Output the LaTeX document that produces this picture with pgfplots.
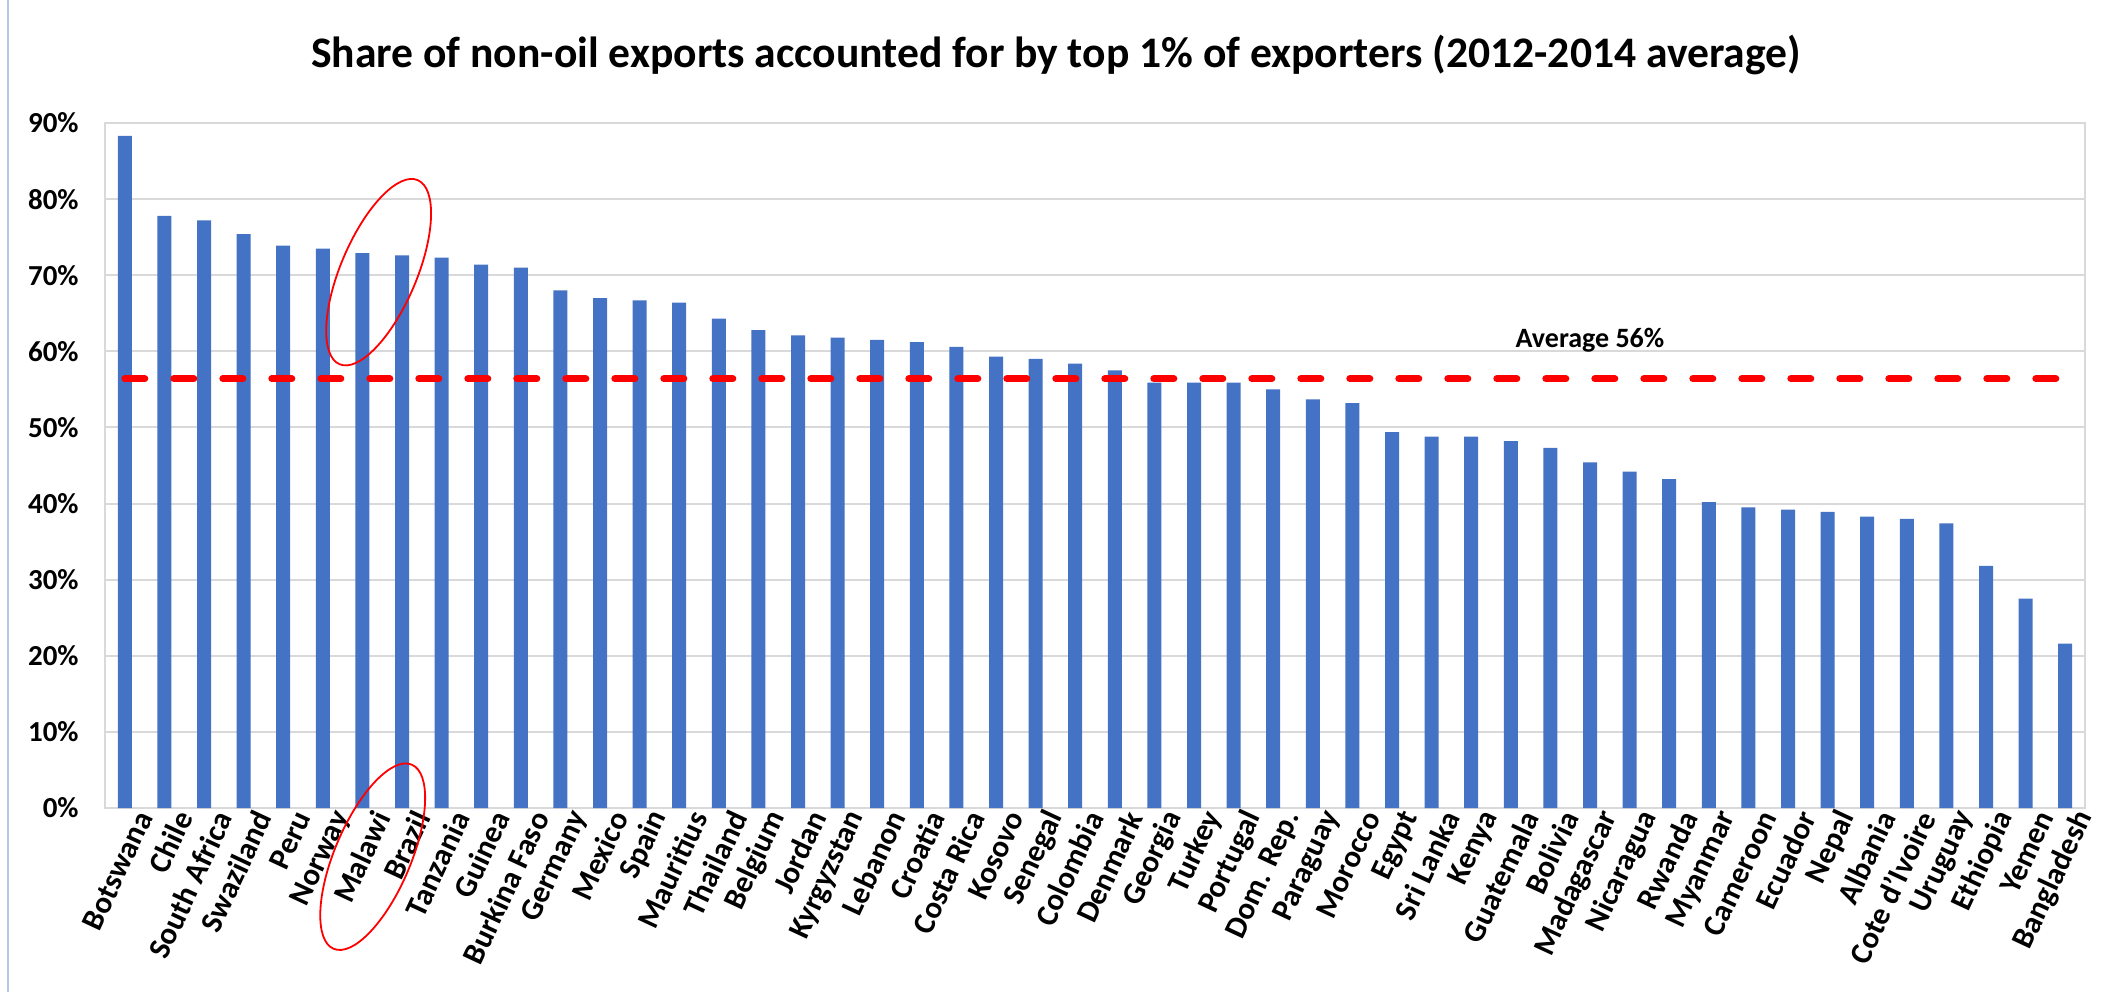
\documentclass[border=0pt]{standalone}
\usepackage{fontspec}
\setmainfont{Carlito}
\usepackage{pgfplots}
\usepackage{pgfplotstable}
\pgfplotsset{compat=1.18}
\usetikzlibrary{shapes.geometric}
\definecolor{barblue}{HTML}{4472C4}
\definecolor{gridgray}{HTML}{D9D9D9}
\definecolor{frameblue}{HTML}{B4C7E7}

\pgfplotstableread{
x y
0 88.3
1 77.8
2 77.2
3 75.4
4 73.9
5 73.5
6 72.9
7 72.6
8 72.3
9 71.4
10 71.0
11 68.0
12 67.0
13 66.7
14 66.4
15 64.3
16 62.8
17 62.1
18 61.8
19 61.5
20 61.2
21 60.6
22 59.3
23 59.0
24 58.4
25 57.5
26 55.9
27 55.9
28 55.9
29 55.0
30 53.7
31 53.2
32 49.4
33 48.8
34 48.8
35 48.2
36 47.3
37 45.4
38 44.2
39 43.2
40 40.2
41 39.5
42 39.2
43 38.9
44 38.3
45 38.0
46 37.4
47 31.8
48 27.5
49 21.6
}\datatable

\begin{document}
\begin{tikzpicture}
\useasboundingbox (0,0) rectangle (1056pt,496pt);
\draw[frameblue, line width=0.75pt] (4pt,0) -- (4pt,496pt);
\node[anchor=base, inner sep=0pt, font=\fontsize{21.8}{26}\selectfont\bfseries] at (528pt,462pt) {Share of non-oil exports accounted for by top 1\% of exporters (2012-2014 average)};
\begin{axis}[
  at={(52.5pt,92pt)}, anchor=south west,
  scale only axis, width=990pt, height=342.5pt,
  xmin=-0.5, xmax=49.5, ymin=0, ymax=90,
  clip=false,
  xtick={0,...,49},
  xticklabels={Botswana,Chile,South Africa,Swaziland,Peru,Norway,Malawi,Brazil,Tanzania,Guinea,Burkina Faso,Germany,Mexico,Spain,Mauritius,Thailand,Belgium,Jordan,Kyrgyzstan,Lebanon,Croatia,Costa Rica,Kosovo,Senegal,Colombia,Denmark,Georgia,Turkey,Portugal,Dom. Rep.,Paraguay,Morocco,Egypt,Sri Lanka,Kenya,Guatemala,Bolivia,Madagascar,Nicaragua,Rwanda,Myanmar,Cameroon,Ecuador,Nepal,Albania,Cote d'Ivoire,Uruguay,Ethiopia,Yemen,Bangladesh},
  ytick={0,10,...,90},
  yticklabel={\pgfmathprintnumber{\tick}\%},
  /pgf/number format/assume math mode=true,
  ymajorgrids,
  grid style={gridgray, line width=1pt},
  axis line style={gridgray, line width=1pt},
  major tick length=0pt,
  yticklabel style={font=\fontsize{14.5}{17}\selectfont\bfseries, inner sep=0pt, anchor=east, xshift=-13pt},
  xticklabel style={font=\fontsize{15.5}{18}\selectfont\bfseries, rotate=65, anchor=east, inner sep=0pt, yshift=-10pt, xshift=2pt},
]
\addplot[ybar, bar width=7pt, fill=barblue, draw=none] table[x=x,y=y]{\datatable};
\addplot[red, line width=3.5pt, dash pattern=on 10pt off 14.5pt, line cap=round] coordinates {(0,56.4) (49,56.4)};
\node[font=\fontsize{14}{17}\selectfont\bfseries] at (axis cs:37,61.4) {Average 56\%};
\node[draw=red, line width=0.9pt, ellipse, minimum width=100pt, minimum height=38pt, inner sep=0pt, rotate=67] at (axis cs:6.41,70.4) {};
\node[draw=red, line width=0.9pt, ellipse, minimum width=100pt, minimum height=38pt, inner sep=0pt, rotate=67] at (axis cs:6.26,-6.4) {};
\end{axis}
\end{tikzpicture}
\end{document}
